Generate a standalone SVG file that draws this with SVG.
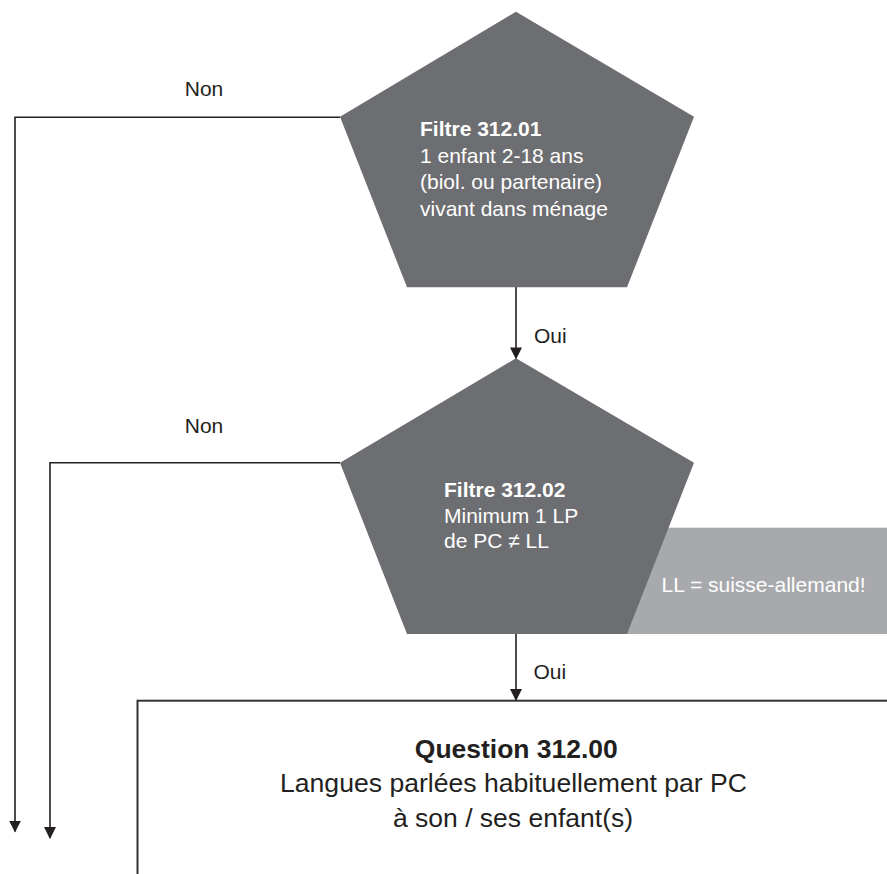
<svg xmlns="http://www.w3.org/2000/svg" width="887" height="874" viewBox="0 0 887 874">
<style>
.pent{fill:#6d6e71;stroke:none}
.note{fill:#a7a9ac;stroke:none}
.wt{fill:#ffffff;font-family:"Liberation Sans",Arial,sans-serif;font-size:21px}
.lbl{fill:#231f20;font-family:"Liberation Sans",Arial,sans-serif;font-size:21px}
.bt{fill:#231f20;font-family:"Liberation Sans",Arial,sans-serif;font-size:26.5px}
.b{font-weight:bold}
.conn{fill:none;stroke:#231f20;stroke-width:1.6}
.box{fill:#ffffff;stroke:#333333;stroke-width:2}
</style>
<defs>
<marker id="ah" markerUnits="userSpaceOnUse" markerWidth="12" markerHeight="12" refX="10" refY="5.5" orient="auto" viewBox="0 0 11 11">
<path d="M0,0 L11,5.5 L0,11 z" fill="#231f20"/>
</marker>
</defs>
<rect width="887" height="874" fill="#ffffff"/>
<g id="question">
<rect class="box" x="137.5" y="700.7" width="800" height="300"/>
<text class="bt b" x="516.3" y="758" text-anchor="middle" textLength="203" lengthAdjust="spacingAndGlyphs">Question 312.00</text>
<text class="bt" x="513.5" y="792" text-anchor="middle" textLength="467" lengthAdjust="spacingAndGlyphs">Langues parlées habituellement par PC</text>
<text class="bt" x="513" y="827" text-anchor="middle">à son / ses enfant(s)</text>
</g>
<g id="connectors">
<path class="conn" d="M340,117.3 H15 V831.5" marker-end="url(#ah)"/>
<path class="conn" d="M340,462.7 H50 V838" marker-end="url(#ah)"/>
<path class="conn" d="M516,287 V358.3" marker-end="url(#ah)"/>
<path class="conn" d="M516,634 V700" marker-end="url(#ah)"/>
<text class="lbl" x="204" y="96" text-anchor="middle">Non</text>
<text class="lbl" x="204" y="433" text-anchor="middle">Non</text>
<text class="lbl" x="534" y="343">Oui</text>
<text class="lbl" x="533.5" y="678.5">Oui</text>
</g>
<g id="note">
<rect class="note" x="600" y="527.7" width="287" height="106.3"/>
<text class="wt" x="661.5" y="591.7">LL = suisse-allemand!</text>
</g>
<g id="filtre1">
<polygon class="pent" points="516,11.7 694,116.7 627,287.3 407,287.3 340,116.7"/>
<text class="wt" x="420" y="136"><tspan class="b">Filtre 312.01</tspan><tspan x="420" dy="26.7">1 enfant 2-18 ans</tspan><tspan x="420" dy="26.7">(biol. ou partenaire)</tspan><tspan x="420" dy="26.7">vivant dans ménage</tspan></text>
</g>
<g id="filtre2">
<polygon class="pent" points="516,358.3 694,462.7 627,634 407,634 340,462.7"/>
<text class="wt" x="444" y="496.7"><tspan class="b">Filtre 312.02</tspan><tspan x="444" dy="25.8">Minimum 1 LP</tspan><tspan x="444" dy="25.8">de PC ≠ LL</tspan></text>
</g>
</svg>
